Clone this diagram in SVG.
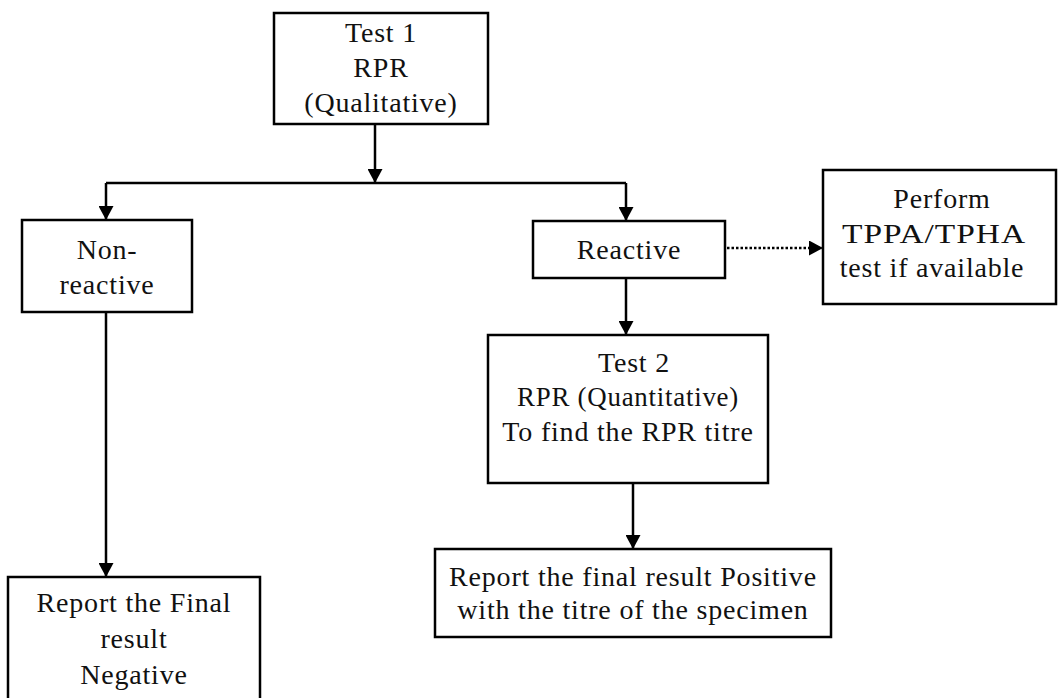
<svg xmlns="http://www.w3.org/2000/svg" width="1058" height="698" viewBox="0 0 1058 698">
<style>
.box{fill:#fff;stroke:#000;stroke-width:2.5}
.t{font-family:"Liberation Serif","Times New Roman",serif;font-size:28px;letter-spacing:0.8px;fill:#111;text-anchor:middle}
.ln{fill:none;stroke:#000;stroke-width:2.5}
.dot{fill:none;stroke:#000;stroke-width:2.5;stroke-dasharray:2.5 2}
</style>
<defs>
<marker id="ah" markerWidth="14" markerHeight="15" refX="14" refY="7.5" orient="auto" markerUnits="userSpaceOnUse">
<path d="M0,0 L14,7.5 L0,15 Z" fill="#000"/>
</marker>
</defs>
<rect width="1058" height="698" fill="#fff"/>
<g id="connectors">
<line class="ln" x1="375" y1="124" x2="375" y2="183" marker-end="url(#ah)"/>
<line class="ln" x1="106" y1="183" x2="626" y2="183"/>
<line class="ln" x1="106" y1="183" x2="106" y2="220" marker-end="url(#ah)"/>
<line class="ln" x1="626" y1="183" x2="626" y2="221" marker-end="url(#ah)"/>
<line class="dot" x1="727" y1="248" x2="823" y2="248" marker-end="url(#ah)"/>
<line class="ln" x1="626" y1="278" x2="626" y2="335" marker-end="url(#ah)"/>
<line class="ln" x1="106" y1="312" x2="106" y2="577" marker-end="url(#ah)"/>
<line class="ln" x1="633" y1="483" x2="633" y2="549" marker-end="url(#ah)"/>
</g>
<g id="test1">
<rect class="box" x="274" y="13" width="214" height="111"/>
<text class="t" x="381" y="42">Test 1</text>
<text class="t" x="381" y="77">RPR</text>
<text class="t" x="381" y="112">(Qualitative)</text>
</g>
<g id="nonreactive">
<rect class="box" x="22" y="220" width="170" height="92"/>
<text class="t" x="107" y="259">Non-</text>
<text class="t" x="107" y="294">reactive</text>
</g>
<g id="reactive">
<rect class="box" x="533" y="221" width="192" height="57"/>
<text class="t" x="629" y="259">Reactive</text>
</g>
<g id="perform">
<rect class="box" x="823" y="170" width="233" height="134"/>
<text class="t" x="942" y="208">Perform</text>
<text class="t" x="934" y="243" textLength="184" lengthAdjust="spacingAndGlyphs">TPPA/TPHA</text>
<text class="t" x="932" y="277">test if available</text>
</g>
<g id="test2">
<rect class="box" x="488" y="335" width="280" height="148"/>
<text class="t" x="634" y="372">Test 2</text>
<text class="t" x="628" y="406" textLength="222" lengthAdjust="spacingAndGlyphs">RPR (Quantitative)</text>
<text class="t" x="628" y="441">To find the RPR titre</text>
</g>
<g id="positive">
<rect class="box" x="435" y="549" width="396" height="88"/>
<text class="t" x="633" y="586">Report the final result Positive</text>
<text class="t" x="633" y="619">with the titre of the specimen</text>
</g>
<g id="negative">
<rect class="box" x="8" y="577" width="252" height="125"/>
<text class="t" x="134" y="612">Report the Final</text>
<text class="t" x="134" y="648">result</text>
<text class="t" x="134" y="684">Negative</text>
</g>
</svg>
